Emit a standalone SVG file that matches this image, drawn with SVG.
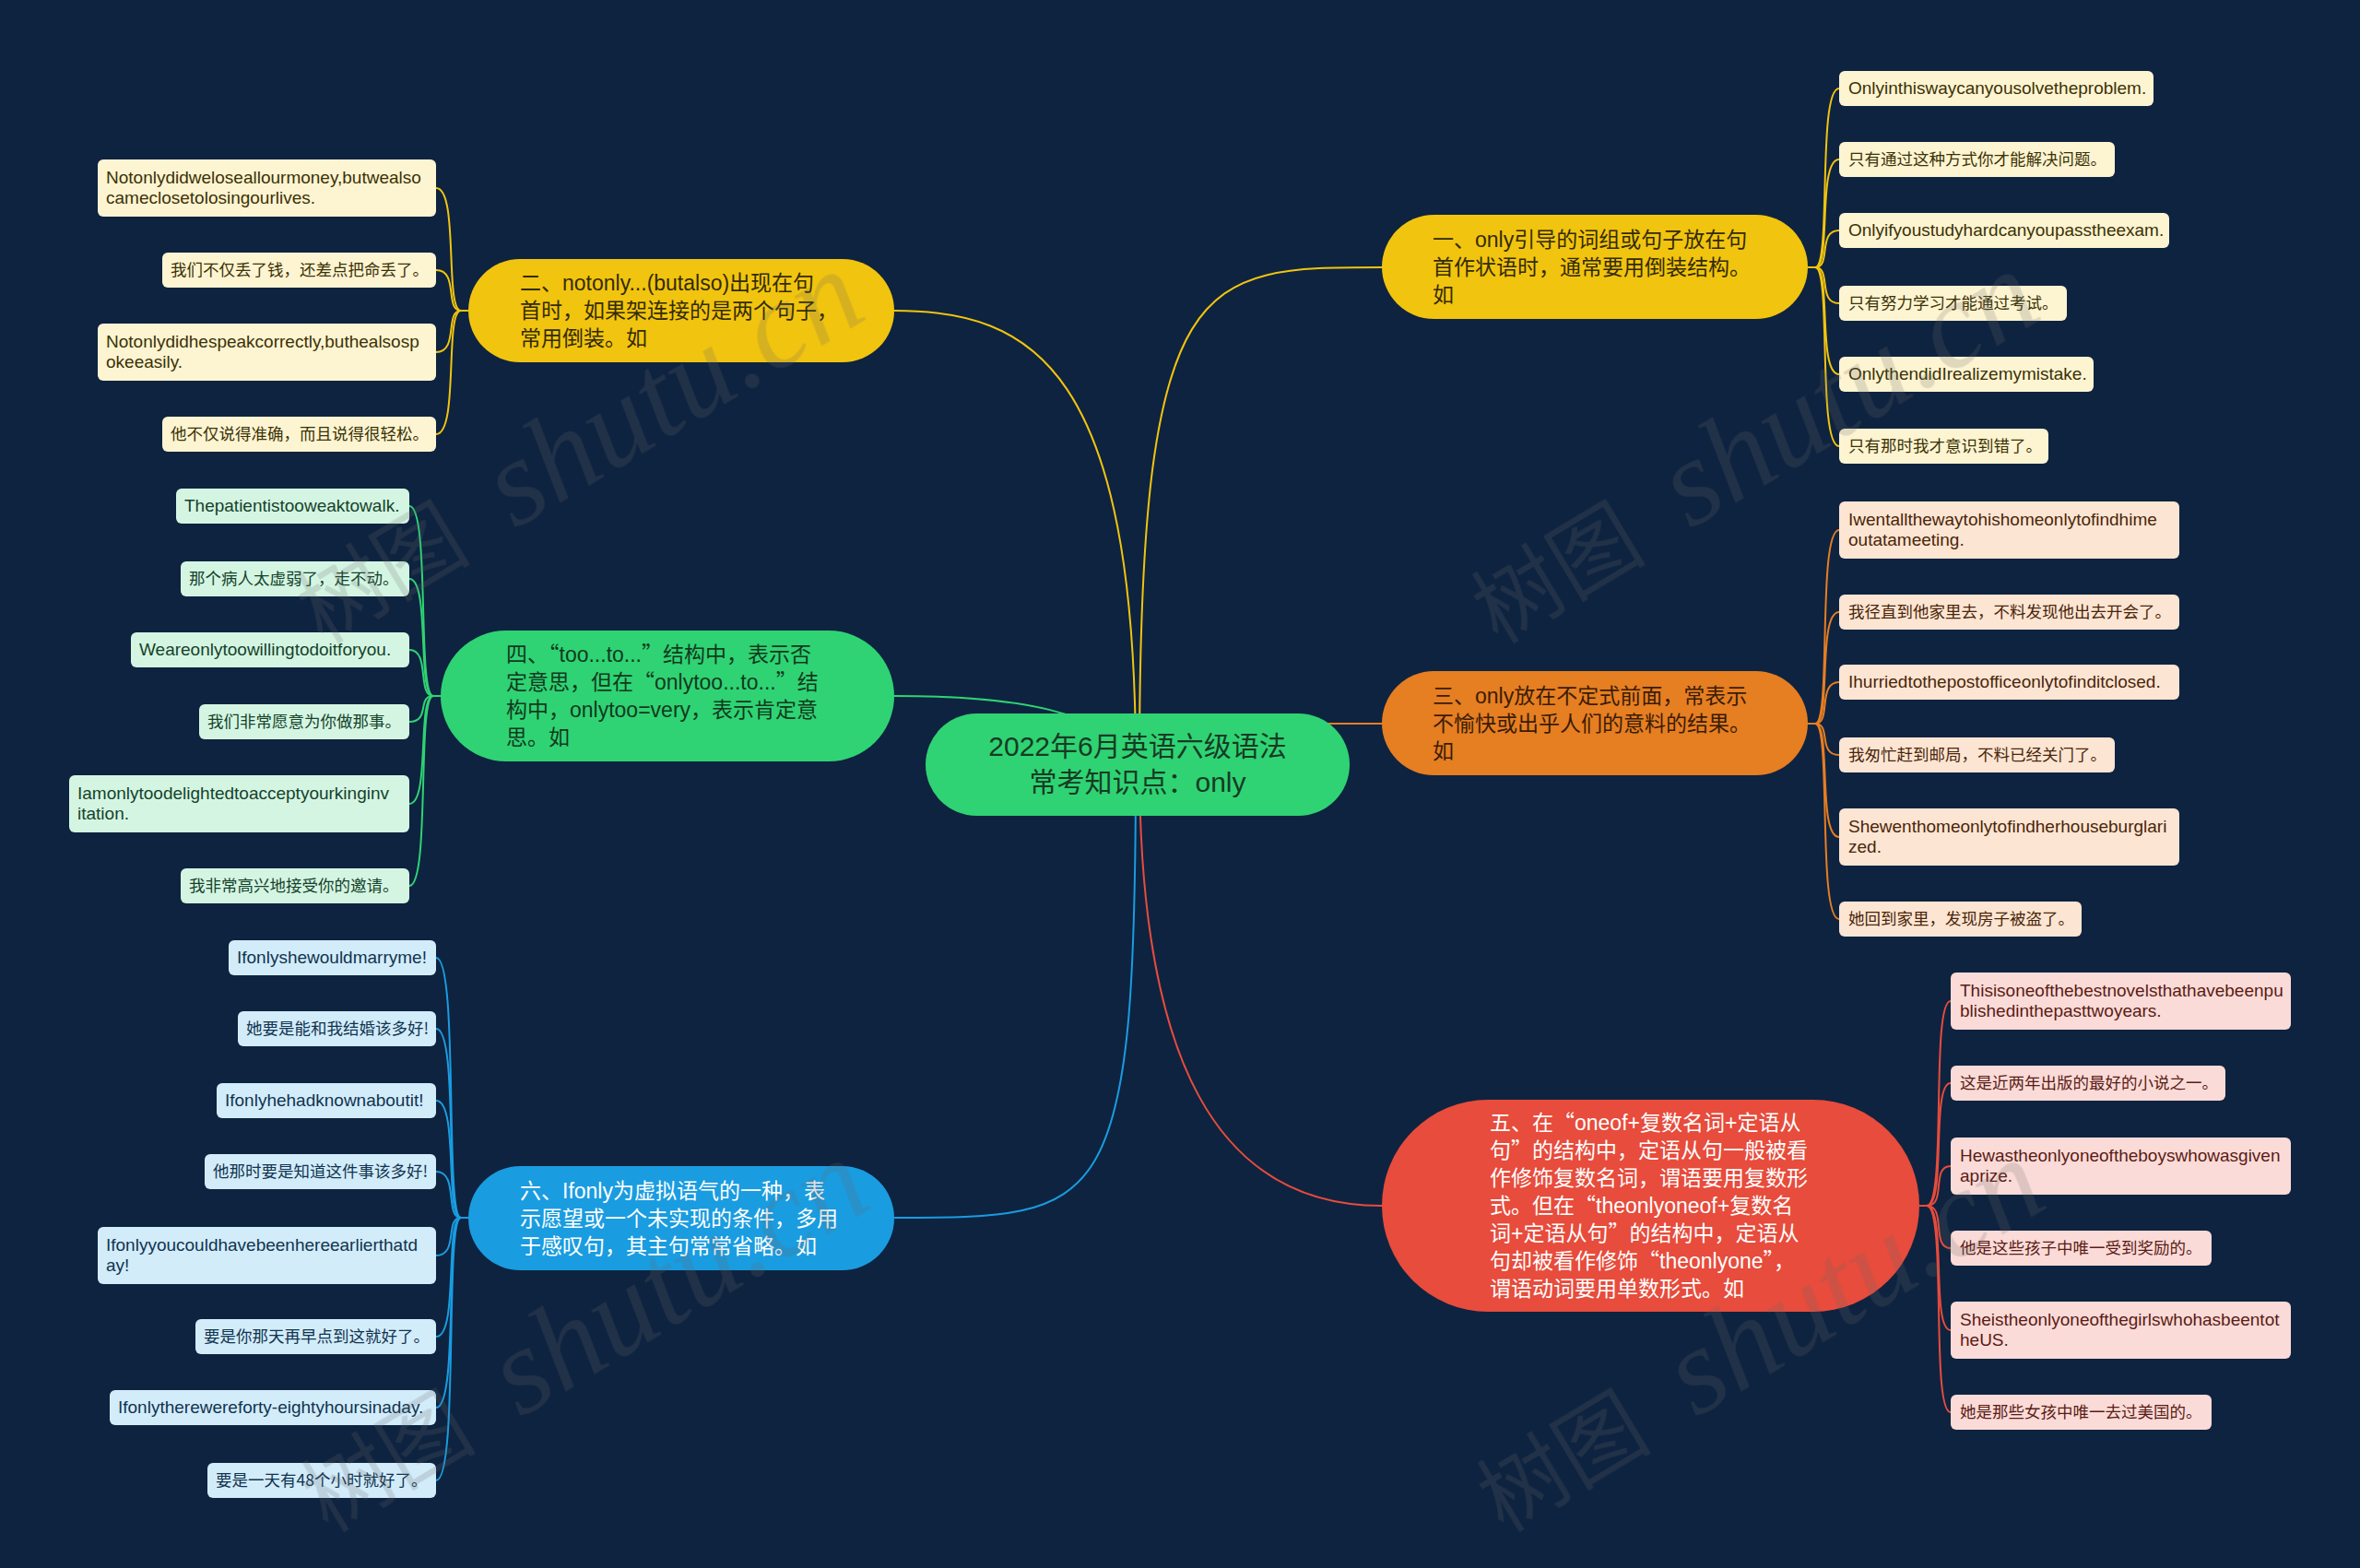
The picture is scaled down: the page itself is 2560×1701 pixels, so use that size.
<svg xmlns="http://www.w3.org/2000/svg" width="2560" height="1701" viewBox="0 0 2560 1701">
<defs>
<style>
.nt{font-family:"Liberation Sans","Noto Sans CJK SC",sans-serif;font-size:23px}
.q{font-family:"Noto Sans CJK SC",sans-serif}
.ct{font-family:"Liberation Sans","Noto Sans CJK SC",sans-serif;font-size:30px;fill:#173a24;text-anchor:middle}
.le{font-family:"Liberation Sans","Noto Sans CJK SC",sans-serif;font-size:19px}
.lc{font-family:"Noto Sans CJK SC",sans-serif;font-size:17.5px}
.cy{fill:none;stroke:#f1c40f;stroke-width:2}
.co{fill:none;stroke:#e67e22;stroke-width:2}
.cr{fill:none;stroke:#e74c3c;stroke-width:2}
.cg{fill:none;stroke:#2fd373;stroke-width:2}
.cb{fill:none;stroke:#1a9ce0;stroke-width:2}
.ly{fill:#fdf4d2}.lo{fill:#fce5d3}.lr{fill:#fadbd8}.lg{fill:#d5f5e3}.lb{fill:#d3ecfa}
.ty{fill:#3b3205}.to{fill:#4a2509}.tr{fill:#5a1b15}.tg{fill:#14432a}.tb{fill:#10344f}
.wm{fill:#6a6a6a;opacity:0.2}
.wc{font-family:"Noto Sans CJK SC",sans-serif;font-size:95px}
.ws{font-family:"Liberation Serif",serif;font-style:italic;font-size:134px}
</style>
</defs>
<rect width="2560" height="1701" fill="#0e2340"/>

<g id="connectors">
<path class="cy" d="M1236 829 C1236 290 1300 290 1499 290"/>
<path class="cy" d="M1232 829 C1232 400 1120 337 970 337"/>
<path class="cg" d="M1234 829 C1200 770 1100 755 970 755"/>
<path class="co" d="M1300 785 L1499 785"/>
<path class="cb" d="M1232 829 C1232 1321 1200 1321 970 1321"/>
<path class="cr" d="M1236 829 C1236 1150 1320 1308 1499 1308"/>

<path class="cy" d="M1961 290 L1969 290 C1987 290 1971 96 1995 96"/>
<path class="cy" d="M1961 290 L1969 290 C1987 290 1971 173 1995 173"/>
<path class="cy" d="M1961 290 L1969 290 C1987 290 1971 250 1995 250"/>
<path class="cy" d="M1961 290 L1969 290 C1987 290 1971 329 1995 329"/>
<path class="cy" d="M1961 290 L1969 290 C1987 290 1971 406 1995 406"/>
<path class="cy" d="M1961 290 L1969 290 C1987 290 1971 484 1995 484"/>

<path class="co" d="M1961 785 L1969 785 C1987 785 1971 575 1995 575"/>
<path class="co" d="M1961 785 L1969 785 C1987 785 1971 664 1995 664"/>
<path class="co" d="M1961 785 L1969 785 C1987 785 1971 740 1995 740"/>
<path class="co" d="M1961 785 L1969 785 C1987 785 1971 819 1995 819"/>
<path class="co" d="M1961 785 L1969 785 C1987 785 1971 908 1995 908"/>
<path class="co" d="M1961 785 L1969 785 C1987 785 1971 997 1995 997"/>

<path class="cr" d="M2082 1308 L2090 1308 C2112 1308 2094 1086 2116 1086"/>
<path class="cr" d="M2082 1308 L2090 1308 C2112 1308 2094 1175 2116 1175"/>
<path class="cr" d="M2082 1308 L2090 1308 C2112 1308 2094 1265 2116 1265"/>
<path class="cr" d="M2082 1308 L2090 1308 C2112 1308 2094 1354 2116 1354"/>
<path class="cr" d="M2082 1308 L2090 1308 C2112 1308 2094 1443 2116 1443"/>
<path class="cr" d="M2082 1308 L2090 1308 C2112 1308 2094 1532 2116 1532"/>

<path class="cy" d="M508 337 L500 337 C482 337 498 204 473 204"/>
<path class="cy" d="M508 337 L500 337 C482 337 498 293 473 293"/>
<path class="cy" d="M508 337 L500 337 C482 337 498 382 473 382"/>
<path class="cy" d="M508 337 L500 337 C482 337 498 471 473 471"/>

<path class="cg" d="M478 755 L470 755 C452 755 467 549 444 549"/>
<path class="cg" d="M478 755 L470 755 C452 755 467 628 444 628"/>
<path class="cg" d="M478 755 L470 755 C452 755 467 705 444 705"/>
<path class="cg" d="M478 755 L470 755 C452 755 467 783 444 783"/>
<path class="cg" d="M478 755 L470 755 C452 755 467 872 444 872"/>
<path class="cg" d="M478 755 L470 755 C452 755 467 961 444 961"/>

<path class="cb" d="M508 1321 L500 1321 C482 1321 498 1039 473 1039"/>
<path class="cb" d="M508 1321 L500 1321 C482 1321 498 1116 473 1116"/>
<path class="cb" d="M508 1321 L500 1321 C482 1321 498 1194 473 1194"/>
<path class="cb" d="M508 1321 L500 1321 C482 1321 498 1271 473 1271"/>
<path class="cb" d="M508 1321 L500 1321 C482 1321 498 1362 473 1362"/>
<path class="cb" d="M508 1321 L500 1321 C482 1321 498 1450 473 1450"/>
<path class="cb" d="M508 1321 L500 1321 C482 1321 498 1527 473 1527"/>
<path class="cb" d="M508 1321 L500 1321 C482 1321 498 1606 473 1606"/>
</g>

<g id="center">
<rect x="1004" y="774" width="460" height="111" rx="55.5" fill="#2fd373"/>
<text class="ct" x="1234" y="820">2022年6月英语六级语法</text>
<text class="ct" x="1234" y="859">常考知识点：only</text>
</g>

<g id="n1">
<rect x="1499" y="233" width="462" height="113" rx="56.5" fill="#f1c40f"/>
<text class="nt" fill="#332b05" x="1554" y="268">一、only引导的词组或句子放在句</text>
<text class="nt" fill="#332b05" x="1554" y="298">首作状语时，通常要用倒装结构。</text>
<text class="nt" fill="#332b05" x="1554" y="328">如</text>
</g>
<g id="n2">
<rect x="508" y="281" width="462" height="112" rx="56" fill="#f1c40f"/>
<text class="nt" fill="#332b05" x="564" y="315">二、notonly...(butalso)出现在句</text>
<text class="nt" fill="#332b05" x="564" y="345">首时，如果架连接的是两个句子，</text>
<text class="nt" fill="#332b05" x="564" y="375">常用倒装。如</text>
</g>
<g id="n3">
<rect x="1499" y="728" width="462" height="113" rx="56.5" fill="#e67e22"/>
<text class="nt" fill="#3a1c05" x="1554" y="763">三、only放在不定式前面，常表示</text>
<text class="nt" fill="#3a1c05" x="1554" y="793">不愉快或出乎人们的意料的结果。</text>
<text class="nt" fill="#3a1c05" x="1554" y="823">如</text>
</g>
<g id="n4">
<rect x="478" y="684" width="492" height="142" rx="71" fill="#2fd373"/>
<text class="nt" fill="#12391f" x="549" y="718">四、<tspan class="q">“</tspan>too...to...<tspan class="q">”</tspan>结构中，表示否</text>
<text class="nt" fill="#12391f" x="549" y="748">定意思，但在<tspan class="q">“</tspan>onlytoo...to...<tspan class="q">”</tspan>结</text>
<text class="nt" fill="#12391f" x="549" y="778">构中，onlytoo=very，表示肯定意</text>
<text class="nt" fill="#12391f" x="549" y="808">思。如</text>
</g>
<g id="n5">
<rect x="1499" y="1193" width="583" height="230" rx="115" fill="#e74c3c"/>
<text class="nt" fill="#ffffff" x="1616" y="1226">五、在<tspan class="q">“</tspan>oneof+复数名词+定语从</text>
<text class="nt" fill="#ffffff" x="1616" y="1256">句<tspan class="q">”</tspan>的结构中，定语从句一般被看</text>
<text class="nt" fill="#ffffff" x="1616" y="1286">作修饰复数名词，谓语要用复数形</text>
<text class="nt" fill="#ffffff" x="1616" y="1316">式。但在<tspan class="q">“</tspan>theonlyoneof+复数名</text>
<text class="nt" fill="#ffffff" x="1616" y="1346">词+定语从句<tspan class="q">”</tspan>的结构中，定语从</text>
<text class="nt" fill="#ffffff" x="1616" y="1376">句却被看作修饰<tspan class="q">“</tspan>theonlyone<tspan class="q">”</tspan>，</text>
<text class="nt" fill="#ffffff" x="1616" y="1406">谓语动词要用单数形式。如</text>
</g>
<g id="n6">
<rect x="508" y="1265" width="462" height="113" rx="56.5" fill="#1a9ce0"/>
<text class="nt" fill="#ffffff" x="564" y="1300">六、Ifonly为虚拟语气的一种，表</text>
<text class="nt" fill="#ffffff" x="564" y="1330">示愿望或一个未实现的条件，多用</text>
<text class="nt" fill="#ffffff" x="564" y="1360">于感叹句，其主句常常省略。如</text>
</g>

<g id="n1-leaves">
<g id="n1-1"><rect class="ly" x="1995" y="77" width="341" height="38" rx="6"/><text class="le ty" x="2005" y="102">Onlyinthiswaycanyousolvetheproblem.</text></g>
<g id="n1-2"><rect class="ly" x="1995" y="154" width="299" height="38" rx="6"/><text class="lc ty" x="2005" y="179">只有通过这种方式你才能解决问题。</text></g>
<g id="n1-3"><rect class="ly" x="1995" y="231" width="358" height="38" rx="6"/><text class="le ty" x="2005" y="256">Onlyifyoustudyhardcanyoupasstheexam.</text></g>
<g id="n1-4"><rect class="ly" x="1995" y="310" width="247" height="38" rx="6"/><text class="lc ty" x="2005" y="335">只有努力学习才能通过考试。</text></g>
<g id="n1-5"><rect class="ly" x="1995" y="387" width="276" height="38" rx="6"/><text class="le ty" x="2005" y="412">OnlythendidIrealizemymistake.</text></g>
<g id="n1-6"><rect class="ly" x="1995" y="465" width="227" height="38" rx="6"/><text class="lc ty" x="2005" y="490">只有那时我才意识到错了。</text></g>
</g>

<g id="n3-leaves">
<g id="n3-1"><rect class="lo" x="1995" y="544" width="369" height="62" rx="6"/><text class="le to" x="2005" y="570">Iwentallthewaytohishomeonlytofindhime</text><text class="le to" x="2005" y="592">outatameeting.</text></g>
<g id="n3-2"><rect class="lo" x="1995" y="645" width="369" height="38" rx="6"/><text class="lc to" x="2005" y="670">我径直到他家里去，不料发现他出去开会了。</text></g>
<g id="n3-3"><rect class="lo" x="1995" y="721" width="369" height="38" rx="6"/><text class="le to" x="2005" y="746">Ihurriedtothepostofficeonlytofinditclosed.</text></g>
<g id="n3-4"><rect class="lo" x="1995" y="800" width="299" height="38" rx="6"/><text class="lc to" x="2005" y="825">我匆忙赶到邮局，不料已经关门了。</text></g>
<g id="n3-5"><rect class="lo" x="1995" y="877" width="369" height="62" rx="6"/><text class="le to" x="2005" y="903">Shewenthomeonlytofindherhouseburglari</text><text class="le to" x="2005" y="925">zed.</text></g>
<g id="n3-6"><rect class="lo" x="1995" y="978" width="263" height="38" rx="6"/><text class="lc to" x="2005" y="1003">她回到家里，发现房子被盗了。</text></g>
</g>

<g id="n5-leaves">
<g id="n5-1"><rect class="lr" x="2116" y="1055" width="369" height="62" rx="6"/><text class="le tr" x="2126" y="1081">Thisisoneofthebestnovelsthathavebeenpu</text><text class="le tr" x="2126" y="1103">blishedinthepasttwoyears.</text></g>
<g id="n5-2"><rect class="lr" x="2116" y="1156" width="298" height="38" rx="6"/><text class="lc tr" x="2126" y="1181">这是近两年出版的最好的小说之一。</text></g>
<g id="n5-3"><rect class="lr" x="2116" y="1234" width="369" height="62" rx="6"/><text class="le tr" x="2126" y="1260">Hewastheonlyoneoftheboyswhowasgiven</text><text class="le tr" x="2126" y="1282">aprize.</text></g>
<g id="n5-4"><rect class="lr" x="2116" y="1335" width="283" height="38" rx="6"/><text class="lc tr" x="2126" y="1360">他是这些孩子中唯一受到奖励的。</text></g>
<g id="n5-5"><rect class="lr" x="2116" y="1412" width="369" height="62" rx="6"/><text class="le tr" x="2126" y="1438">Sheistheonlyoneofthegirlswhohasbeentot</text><text class="le tr" x="2126" y="1460">heUS.</text></g>
<g id="n5-6"><rect class="lr" x="2116" y="1513" width="283" height="38" rx="6"/><text class="lc tr" x="2126" y="1538">她是那些女孩中唯一去过美国的。</text></g>
</g>

<g id="n2-leaves">
<g id="n2-1"><rect class="ly" x="106" y="173" width="367" height="62" rx="6"/><text class="le ty" x="115" y="199">Notonlydidweloseallourmoney,butwealso</text><text class="le ty" x="115" y="221">cameclosetolosingourlives.</text></g>
<g id="n2-2"><rect class="ly" x="176" y="274" width="297" height="38" rx="6"/><text class="lc ty" x="185" y="299">我们不仅丢了钱，还差点把命丢了。</text></g>
<g id="n2-3"><rect class="ly" x="106" y="351" width="367" height="62" rx="6"/><text class="le ty" x="115" y="377">Notonlydidhespeakcorrectly,buthealsosp</text><text class="le ty" x="115" y="399">okeeasily.</text></g>
<g id="n2-4"><rect class="ly" x="176" y="452" width="297" height="38" rx="6"/><text class="lc ty" x="185" y="477">他不仅说得准确，而且说得很轻松。</text></g>
</g>

<g id="n4-leaves">
<g id="n4-1"><rect class="lg" x="191" y="530" width="253" height="38" rx="6"/><text class="le tg" x="200" y="555">Thepatientistooweaktowalk.</text></g>
<g id="n4-2"><rect class="lg" x="196" y="609" width="248" height="38" rx="6"/><text class="lc tg" x="205" y="634">那个病人太虚弱了，走不动。</text></g>
<g id="n4-3"><rect class="lg" x="142" y="686" width="302" height="38" rx="6"/><text class="le tg" x="151" y="711">Weareonlytoowillingtodoitforyou.</text></g>
<g id="n4-4"><rect class="lg" x="216" y="764" width="228" height="38" rx="6"/><text class="lc tg" x="225" y="789">我们非常愿意为你做那事。</text></g>
<g id="n4-5"><rect class="lg" x="75" y="841" width="369" height="62" rx="6"/><text class="le tg" x="84" y="867">Iamonlytoodelightedtoacceptyourkinginv</text><text class="le tg" x="84" y="889">itation.</text></g>
<g id="n4-6"><rect class="lg" x="196" y="942" width="248" height="38" rx="6"/><text class="lc tg" x="205" y="967">我非常高兴地接受你的邀请。</text></g>
</g>

<g id="n6-leaves">
<g id="n6-1"><rect class="lb" x="248" y="1020" width="225" height="38" rx="6"/><text class="le tb" x="257" y="1045">Ifonlyshewouldmarryme!</text></g>
<g id="n6-2"><rect class="lb" x="258" y="1097" width="215" height="38" rx="6"/><text class="lc tb" x="267" y="1122">她要是能和我结婚该多好!</text></g>
<g id="n6-3"><rect class="lb" x="235" y="1175" width="238" height="38" rx="6"/><text class="le tb" x="244" y="1200">Ifonlyhehadknownaboutit!</text></g>
<g id="n6-4"><rect class="lb" x="222" y="1252" width="251" height="38" rx="6"/><text class="lc tb" x="231" y="1277">他那时要是知道这件事该多好!</text></g>
<g id="n6-5"><rect class="lb" x="106" y="1331" width="367" height="62" rx="6"/><text class="le tb" x="115" y="1357">Ifonlyyoucouldhavebeenhereearlierthatd</text><text class="le tb" x="115" y="1379">ay!</text></g>
<g id="n6-6"><rect class="lb" x="212" y="1431" width="261" height="38" rx="6"/><text class="lc tb" x="221" y="1456">要是你那天再早点到这就好了。</text></g>
<g id="n6-7"><rect class="lb" x="119" y="1508" width="354" height="38" rx="6"/><text class="le tb" x="128" y="1533">Ifonlytherewereforty-eightyhoursinaday.</text></g>
<g id="n6-8"><rect class="lb" x="225" y="1587" width="248" height="38" rx="6"/><text class="lc tb" x="234" y="1612">要是一天有48个小时就好了。</text></g>
</g>

<g id="watermark" class="wm">
<text transform="translate(350,700) rotate(-31)"><tspan class="wc">树图</tspan><tspan class="ws" x="243">shutu.cn</tspan></text>
<text transform="translate(1625,700) rotate(-31)"><tspan class="wc">树图</tspan><tspan class="ws" x="243">shutu.cn</tspan></text>
<text transform="translate(356,1664) rotate(-31)"><tspan class="wc">树图</tspan><tspan class="ws" x="243">shutu.cn</tspan></text>
<text transform="translate(1631,1664) rotate(-31)"><tspan class="wc">树图</tspan><tspan class="ws" x="243">shutu.cn</tspan></text>
</g>
</svg>
